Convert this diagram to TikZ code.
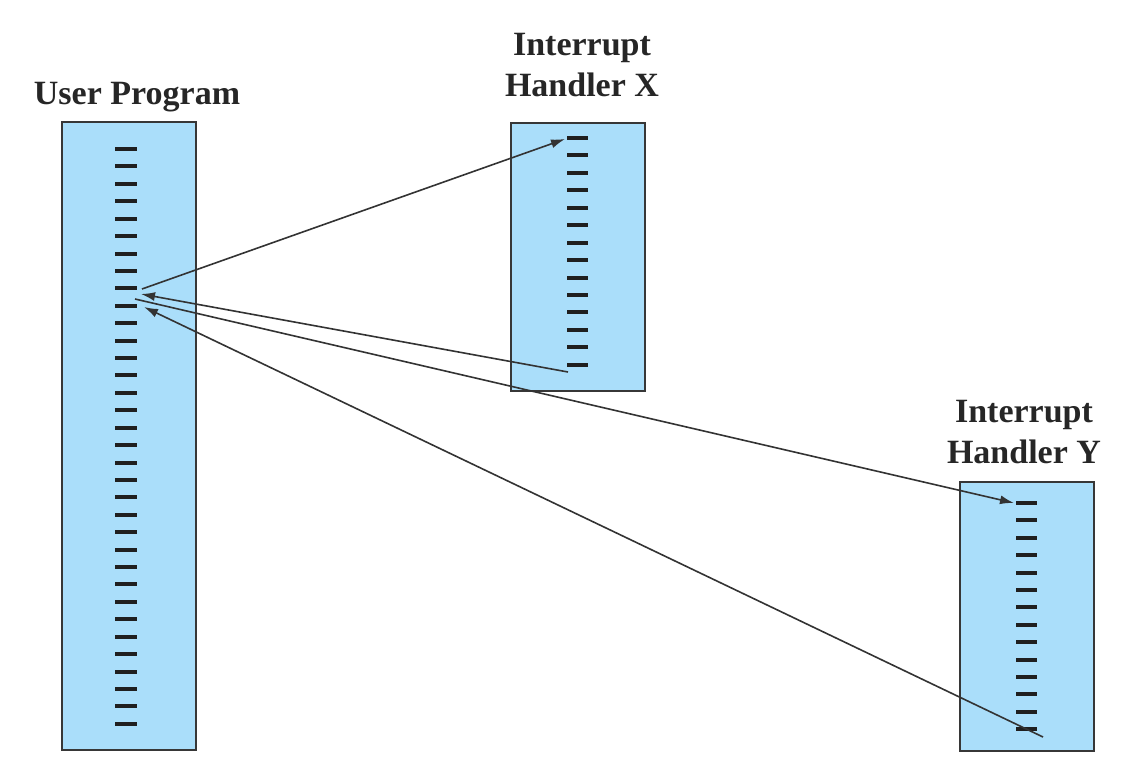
\documentclass[tikz,border=0pt]{standalone}
\usepackage{fontspec}
\setmainfont{Liberation Serif}
\usetikzlibrary{arrows.meta}
\definecolor{boxblue}{RGB}{170,222,250}
\definecolor{boxedge}{RGB}{55,55,55}
\begin{document}
\begin{tikzpicture}[x=1pt,y=-1pt,
  membox/.style={draw=boxedge,line width=2pt,fill=boxblue,inner sep=0pt},
  instr/.style={line width=4pt,black!88},
  title/.style={font=\fontsize{34}{40}\selectfont\bfseries,anchor=base,text=black!85,inner sep=0pt},
  flow/.style={line width=1.6pt,black!80,-{Latex[length=14pt,width=9pt]}}]
\useasboundingbox (0,0) rectangle (1138,776);
% boxes
\path[membox] (62,122) rectangle (196,750);
\path[membox] (511,123) rectangle (645,391);
\path[membox] (960,482) rectangle (1094,751);
% titles
\node[title] (tu) at (137,104) {User Program};
\node[title] (tx1) at (582,56) {Interrupt};
\node[title] (tx2) at (582,96) {Handler X};
\node[title] (ty1) at (1024,422) {Interrupt};
\node[title] (ty2) at (1024,463) {Handler Y};
% instruction dashes
\foreach \i in {0,...,33} {\pgfmathsetmacro\yy{round(149+17.42*\i)}
  \draw[instr] (115,\yy) -- (137,\yy);}
\foreach \i in {0,...,13} {\pgfmathsetmacro\yy{round(138+17.44*\i)}
  \draw[instr] (567,\yy) -- (588,\yy);}
\foreach \i in {0,...,13} {\pgfmathsetmacro\yy{round(503+17.4*\i)}
  \draw[instr] (1016,\yy) -- (1037,\yy);}
% connection points
\coordinate (u1) at (142,289);
\coordinate (u2) at (141,294);
\coordinate (u3) at (135,299);
\coordinate (u4) at (144,307);
\coordinate (xs) at (565,139);
\coordinate (xe) at (568,372);
\coordinate (ys) at (1014,503);
\coordinate (ye) at (1043,737);
% arrows
\draw[flow] (u1) -- (xs);
\draw[flow] (xe) -- (u2);
\draw[flow] (u3) -- (ys);
\draw[flow] (ye) -- (u4);
\end{tikzpicture}
\end{document}
